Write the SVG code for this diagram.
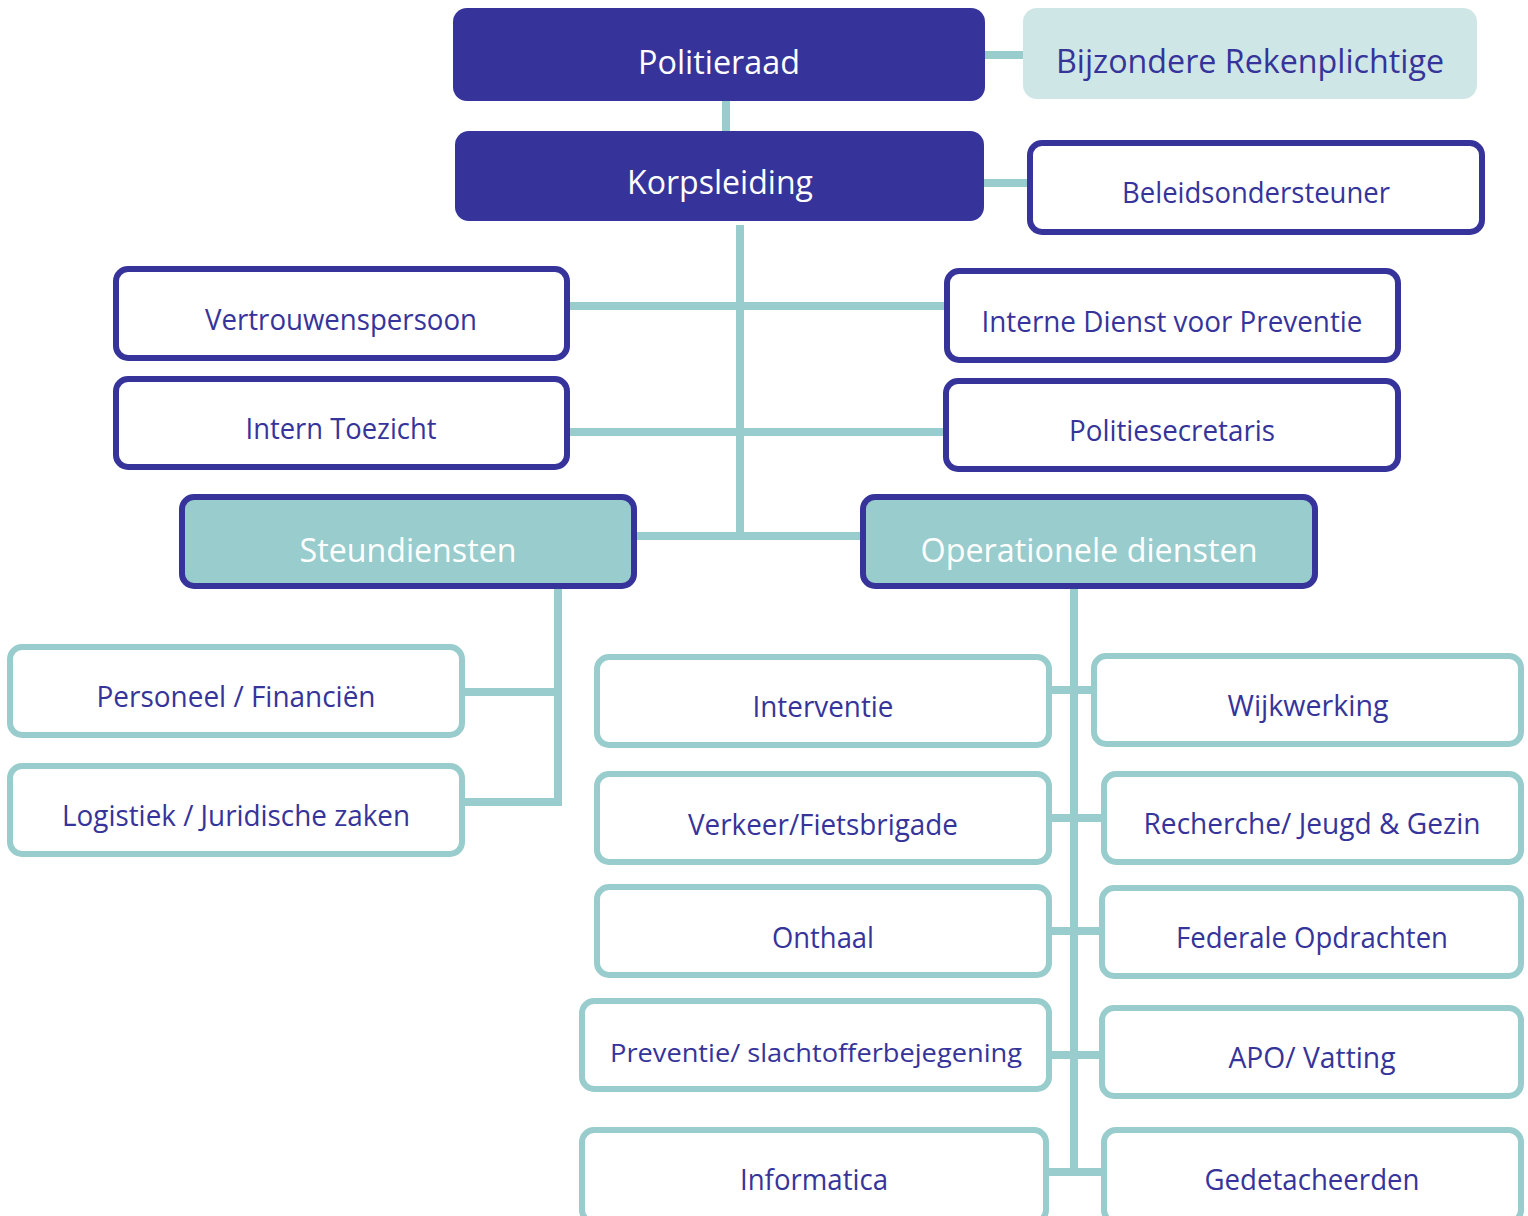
<svg xmlns="http://www.w3.org/2000/svg" width="1528" height="1216" viewBox="0 0 1528 1216">
<style>
text{font-family:"Open Sans","Noto Sans","Liberation Sans",sans-serif;text-anchor:middle;fill:#36349A}
.big{font-size:33px}
.mid{font-size:29px}
.w{fill:#ffffff}
.navyfill{fill:#36349A}
.navybox{fill:#ffffff;stroke:#36349A;stroke-width:6}
.tealbox{fill:#ffffff;stroke:#99CCCC;stroke-width:6}
.grpbox{fill:#99CCCC;stroke:#36349A;stroke-width:6}
#connectors path{fill:none;stroke:#99CCCC;stroke-width:8}
</style>
<rect width="1528" height="1216" fill="#ffffff"/>
<g id="connectors">
<path d="M985 55H1023"/>
<path d="M726 101V131"/>
<path d="M984 183H1029"/>
<path d="M740 225V536"/>
<path d="M568 306H946"/>
<path d="M568 432H945"/>
<path d="M635 536H862"/>
<path d="M558 587V806"/>
<path d="M463 692H562"/>
<path d="M463 802H562"/>
<path d="M1074 587V1176"/>
<path d="M1050 690H1093"/>
<path d="M1050 818H1103"/>
<path d="M1050 931H1101"/>
<path d="M1050 1055H1101"/>
<path d="M1047 1172H1103"/>
</g>
<g id="politieraad"><rect class="navyfill" x="453" y="8" width="532" height="93" rx="14"/><text class="big w" x="719" y="74" textLength="162" lengthAdjust="spacingAndGlyphs">Politieraad</text></g>
<g id="bijzondere"><rect x="1023" y="8" width="454" height="91" rx="14" fill="#CFE6E6"/><text class="big" x="1250" y="73" textLength="388" lengthAdjust="spacingAndGlyphs">Bijzondere Rekenplichtige</text></g>
<g id="korpsleiding"><rect class="navyfill" x="455" y="131" width="529" height="90" rx="14"/><text class="big w" x="720" y="194" textLength="186" lengthAdjust="spacingAndGlyphs">Korpsleiding</text></g>
<g id="beleidsondersteuner"><rect class="navybox" x="1030" y="143" width="452" height="89" rx="12"/><text class="mid" x="1256" y="203" textLength="268" lengthAdjust="spacingAndGlyphs">Beleidsondersteuner</text></g>
<g id="vertrouwenspersoon"><rect class="navybox" x="116" y="269" width="451" height="89" rx="12"/><text class="mid" x="341" y="330" textLength="272" lengthAdjust="spacingAndGlyphs">Vertrouwenspersoon</text></g>
<g id="interne-dienst"><rect class="navybox" x="947" y="271" width="451" height="89" rx="12"/><text class="mid" x="1172" y="332" textLength="381" lengthAdjust="spacingAndGlyphs">Interne Dienst voor Preventie</text></g>
<g id="intern-toezicht"><rect class="navybox" x="116" y="379" width="451" height="88" rx="12"/><text class="mid" x="341" y="439" textLength="191" lengthAdjust="spacingAndGlyphs">Intern Toezicht</text></g>
<g id="politiesecretaris"><rect class="navybox" x="946" y="381" width="452" height="88" rx="12"/><text class="mid" x="1172" y="441" textLength="206" lengthAdjust="spacingAndGlyphs">Politiesecretaris</text></g>
<g id="steundiensten"><rect class="grpbox" x="182" y="497" width="452" height="89" rx="12"/><text class="big w" x="408" y="562" textLength="217" lengthAdjust="spacingAndGlyphs">Steundiensten</text></g>
<g id="operationele"><rect class="grpbox" x="863" y="497" width="452" height="89" rx="12"/><text class="big w" x="1089" y="562" textLength="337" lengthAdjust="spacingAndGlyphs">Operationele diensten</text></g>
<g id="personeel"><rect class="tealbox" x="10" y="647" width="452" height="88" rx="12"/><text class="mid" x="236" y="707" textLength="279" lengthAdjust="spacingAndGlyphs">Personeel / Financiën</text></g>
<g id="logistiek"><rect class="tealbox" x="10" y="766" width="452" height="88" rx="12"/><text class="mid" x="236" y="826" textLength="348" lengthAdjust="spacingAndGlyphs">Logistiek / Juridische zaken</text></g>
<g id="interventie"><rect class="tealbox" x="597" y="657" width="452" height="88" rx="12"/><text class="mid" x="823" y="717" textLength="141" lengthAdjust="spacingAndGlyphs">Interventie</text></g>
<g id="wijkwerking"><rect class="tealbox" x="1094" y="656" width="427" height="88" rx="12"/><text class="mid" x="1308" y="716" textLength="161" lengthAdjust="spacingAndGlyphs">Wijkwerking</text></g>
<g id="verkeer"><rect class="tealbox" x="597" y="774" width="452" height="88" rx="12"/><text class="mid" x="823" y="835" textLength="270" lengthAdjust="spacingAndGlyphs">Verkeer/Fietsbrigade</text></g>
<g id="recherche"><rect class="tealbox" x="1104" y="774" width="417" height="88" rx="12"/><text class="mid" x="1312" y="834" textLength="337" lengthAdjust="spacingAndGlyphs">Recherche/ Jeugd &amp; Gezin</text></g>
<g id="onthaal"><rect class="tealbox" x="597" y="887" width="452" height="88" rx="12"/><text class="mid" x="823" y="948" textLength="102" lengthAdjust="spacingAndGlyphs">Onthaal</text></g>
<g id="federale"><rect class="tealbox" x="1102" y="888" width="419" height="88" rx="12"/><text class="mid" x="1312" y="948" textLength="272" lengthAdjust="spacingAndGlyphs">Federale Opdrachten</text></g>
<g id="preventie"><rect class="tealbox" x="582" y="1001" width="467" height="88" rx="12"/><text x="816" y="1062" font-size="25" textLength="412" lengthAdjust="spacingAndGlyphs">Preventie/ slachtofferbejegening</text></g>
<g id="apo"><rect class="tealbox" x="1102" y="1008" width="419" height="88" rx="12"/><text class="mid" x="1312" y="1068" textLength="167" lengthAdjust="spacingAndGlyphs">APO/ Vatting</text></g>
<g id="informatica"><rect class="tealbox" x="582" y="1130" width="464" height="92" rx="12"/><text class="mid" x="814" y="1190" textLength="148" lengthAdjust="spacingAndGlyphs">Informatica</text></g>
<g id="gedetacheerden"><rect class="tealbox" x="1104" y="1130" width="417" height="92" rx="12"/><text class="mid" x="1312" y="1190" textLength="215" lengthAdjust="spacingAndGlyphs">Gedetacheerden</text></g>
</svg>
